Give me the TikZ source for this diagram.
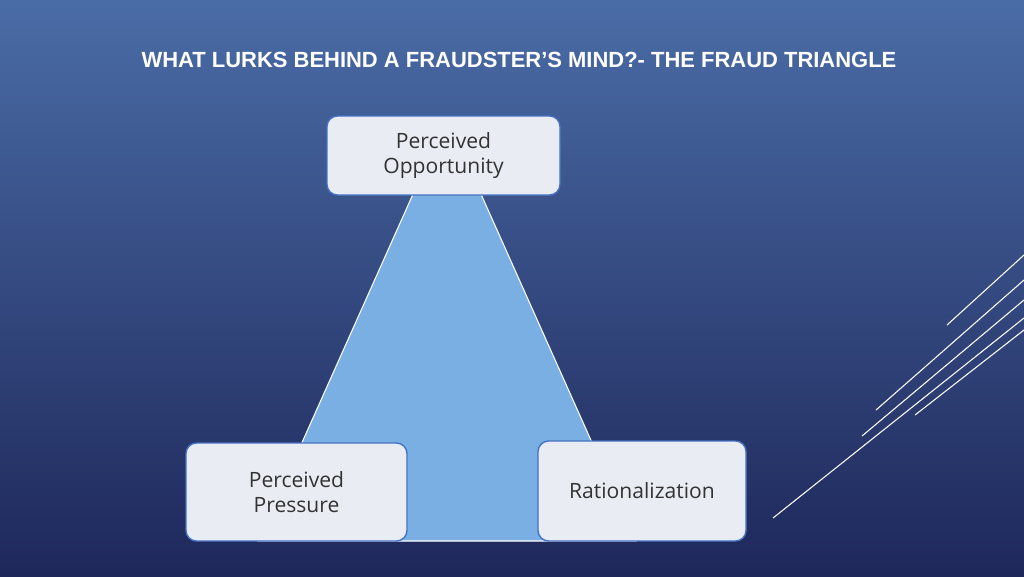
\documentclass[tikz,border=0pt]{standalone}
\usepackage{fontspec}
\setmainfont{Open Sans}
\newfontfamily\titlefont{Liberation Sans}
\definecolor{bgtop}{HTML}{4A6CA6}
\definecolor{bgbot}{HTML}{1E275A}
\definecolor{trifill}{HTML}{7AAFE3}
\definecolor{boxfill}{HTML}{E9ECF2}
\definecolor{boxline}{HTML}{4472C4}
\tikzset{
  cornerbox/.style={draw=boxline, fill=boxfill, rounded corners=6pt, line width=.8pt,
    align=center, font=\fontsize{12}{14}\selectfont, text=black!80, inner sep=0pt},
  deco/.style={white, line width=.6pt}
}
\begin{document}
\begin{tikzpicture}[x=0.02cm,y=-0.02cm]
\shade[top color=bgtop, bottom color=bgbot] (0,0) rectangle (1024,576);
\useasboundingbox (0,0) rectangle (1024,576);
\node[white, font=\titlefont\bfseries\fontsize{12.5}{14}\selectfont] (title) at (519,60)
  {WHAT LURKS BEHIND A FRAUDSTER’S MIND?- THE FRAUD TRIANGLE};
% the triangle
\coordinate (apex) at (447,118);
\coordinate (left) at (258,541);
\coordinate (right) at (636,541);
\filldraw[fill=trifill, draw=white, line width=.6pt] (apex) -- (left) -- (right) -- cycle;
% the corners
\node[cornerbox, minimum width=233*0.02cm, minimum height=79*0.02cm] (opp) at (443.5,155.5) {Perceived\\Opportunity};
\node[cornerbox, minimum width=221*0.02cm, minimum height=98*0.02cm] (press) at (296.5,492) {Perceived\\Pressure};
\node[cornerbox, minimum width=208*0.02cm, minimum height=100*0.02cm] (rat) at (642,491) {Rationalization};
% lines at the right
\draw[deco] (773,518) -- (1024,318);
\draw[deco] (862,436) -- (1024,300);
\draw[deco] (876,410) -- (1024,280);
\draw[deco] (915,415) -- (1024,330);
\draw[deco] (947,325) -- (1024,255);
\end{tikzpicture}
\end{document}
